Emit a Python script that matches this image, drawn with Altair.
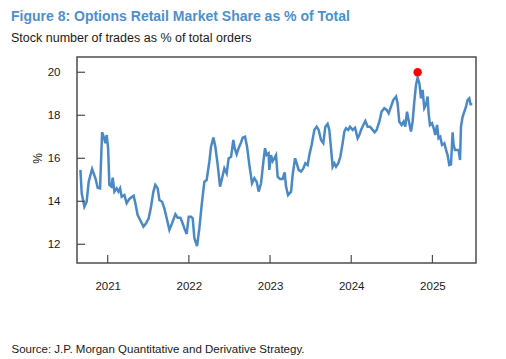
import altair as alt
import pandas as pd

# ---- data ----
years = [
    2020.664, 2020.680, 2020.713, 2020.741, 2020.766, 2020.808, 2020.849, 2020.877, 2020.906, 2020.931,
    2020.951, 2020.972, 2020.988, 2021.005, 2021.021, 2021.046, 2021.062, 2021.083, 2021.111, 2021.132,
    2021.153, 2021.172, 2021.206, 2021.234, 2021.267, 2021.300, 2021.320, 2021.341, 2021.369, 2021.411,
    2021.440, 2021.473, 2021.505, 2021.534, 2021.563, 2021.587, 2021.616, 2021.637, 2021.670, 2021.698,
    2021.727, 2021.760, 2021.793, 2021.834, 2021.862, 2021.895, 2021.916, 2021.945, 2021.973, 2021.998,
    2022.027, 2022.047, 2022.068, 2022.101, 2022.129, 2022.158, 2022.191, 2022.219, 2022.252, 2022.273,
    2022.302, 2022.326, 2022.355, 2022.384, 2022.409, 2022.437, 2022.466, 2022.490, 2022.520, 2022.548,
    2022.564, 2022.589, 2022.613, 2022.643, 2022.663, 2022.692, 2022.717, 2022.745, 2022.778, 2022.807,
    2022.835, 2022.860, 2022.889, 2022.918, 2022.938, 2022.958, 2022.983, 2022.991, 2023.012, 2023.032,
    2023.053, 2023.074, 2023.094, 2023.123, 2023.155, 2023.180, 2023.197, 2023.222,
    2023.259, 2023.278, 2023.308, 2023.328, 2023.352, 2023.382, 2023.410, 2023.435, 2023.463, 2023.484,
    2023.512, 2023.546, 2023.574, 2023.599, 2023.628, 2023.656, 2023.681, 2023.709, 2023.730, 2023.751,
    2023.771, 2023.792, 2023.813, 2023.841, 2023.866, 2023.894, 2023.915, 2023.936, 2023.964, 2023.985,
    2024.017, 2024.047, 2024.079, 2024.100, 2024.121, 2024.149, 2024.174, 2024.202, 2024.232, 2024.264,
    2024.288, 2024.313, 2024.346, 2024.374, 2024.408, 2024.436, 2024.461, 2024.490, 2024.518, 2024.552,
    2024.571, 2024.592, 2024.621, 2024.645, 2024.666, 2024.687, 2024.707, 2024.736, 2024.756, 2024.777,
    2024.798, 2024.818, 2024.839, 2024.860, 2024.879, 2024.900, 2024.921, 2024.941, 2024.953, 2024.970,
    2024.995, 2025.015, 2025.036, 2025.057, 2025.076, 2025.097, 2025.118, 2025.147, 2025.168, 2025.187,
    2025.208, 2025.229, 2025.249, 2025.261, 2025.278, 2025.303, 2025.323, 2025.340, 2025.352, 2025.372,
    2025.393, 2025.414, 2025.433, 2025.454, 2025.470, 2025.491,
]
share = [
    15.46, 14.37, 13.75, 13.98, 14.91, 15.50, 15.07, 14.63, 14.60, 17.21,
    17.00, 16.70, 17.08, 16.47, 14.76, 14.68, 15.10, 14.45, 14.60, 14.45,
    14.60, 14.21, 14.29, 13.91, 14.11, 14.21, 14.26, 13.91, 13.36, 13.05,
    12.82, 12.98, 13.21, 13.75, 14.45, 14.76, 14.60, 14.06, 13.98, 13.67,
    13.21, 12.67, 12.98, 13.40, 13.24, 13.24, 13.05, 12.74, 12.48, 13.28,
    13.28, 13.21, 12.28, 11.92, 12.74, 13.83, 14.91, 14.99, 15.84, 16.54,
    16.96, 16.54, 15.69, 14.68, 15.07, 15.53, 15.30, 16.00, 16.07, 16.85,
    16.47, 16.19, 16.47, 16.74, 16.96, 17.00, 16.54, 15.69, 14.84, 15.07,
    14.91, 14.45, 14.84, 15.84, 16.47, 16.15, 16.23, 15.46, 16.15, 15.87,
    16.00, 16.15, 15.14, 15.04, 15.04, 15.35, 14.68, 14.29,
    14.45, 15.22, 16.00, 15.77, 15.46, 15.38, 15.53, 15.77, 15.69, 16.15,
    16.62, 17.32, 17.47, 17.32, 16.85, 16.70, 17.47, 17.60, 17.32, 16.47,
    15.61, 15.77, 15.61, 15.77, 16.07, 16.70, 17.24, 17.40, 17.32, 17.47,
    17.32, 17.42, 16.93, 17.08, 17.32, 17.55, 17.73, 17.47, 17.47, 17.32,
    17.21, 17.32, 17.70, 18.17, 18.33, 18.25, 18.09, 18.40, 18.71, 18.87,
    18.56, 17.70, 17.55, 17.70, 17.47, 18.17, 17.78, 17.24, 17.70, 18.63,
    19.41, 19.75, 19.49, 18.79, 19.18, 18.33, 18.48, 18.87, 18.09, 17.55,
    17.63, 17.40, 17.08, 17.55, 16.93, 17.00, 16.62, 16.70, 16.39, 16.15,
    15.69, 15.72, 17.21, 16.62, 16.39, 16.39, 16.39, 15.92, 17.47, 17.93,
    18.17, 18.40, 18.71, 18.79, 18.51, 18.51,
]
peak_year = [2024.818]
peak_share = [20.0]
x_ticks = [2021, 2022, 2023, 2024, 2025]
y_ticks = [12, 14, 16, 18, 20]

TITLE = "Figure 8: Options Retail Market Share as % of Total"
SUBTITLE = "Stock number of trades as % of total orders"
SOURCE = "Source: J.P. Morgan Quantitative and Derivative Strategy."
Y_TITLE = "%"

# ---- styling ----
W, H = 399, 206
FONT = "Liberation Sans"
FRAME = "#4d4d4d"
TEXT = "#1a1a1a"

df = pd.DataFrame({"year": years, "share": share})
peak_df = pd.DataFrame({"year": peak_year, "share": peak_share})
xt_df = pd.DataFrame({"year": x_ticks})
yt_df = pd.DataFrame({"share": y_ticks})

xs = alt.Scale(domain=[2020.622, 2025.537], nice=False, zero=False)
ys = alt.Scale(domain=[11.13, 20.71], nice=False, zero=False)

x_axis = alt.Axis(
    values=x_ticks, format="d", title=SOURCE, domain=False, ticks=False, grid=False,
    labelFont=FONT, labelFontSize=11.5, labelColor=TEXT, labelPadding=17,
    titleFont=FONT, titleFontSize=11.5, titleFontWeight="normal", titleColor=TEXT,
    titleX=-66, titleY=89, titleAlign="left", titleBaseline="alphabetic")
y_axis = alt.Axis(
    values=y_ticks, title=Y_TITLE, domain=False, ticks=False, grid=False,
    labelFont=FONT, labelFontSize=11.5, labelColor=TEXT, labelPadding=17,
    titleFont=FONT, titleFontSize=12, titleFontWeight="normal", titleColor=TEXT,
    titleX=-40, titleY=101, titleAlign="center", titleBaseline="middle")

line = alt.Chart(df).mark_line(color="#4a89c5", strokeWidth=2.5).encode(
    x=alt.X("year:Q", scale=xs, axis=x_axis),
    y=alt.Y("share:Q", scale=ys, axis=y_axis),
)

peak = alt.Chart(peak_df).mark_circle(color="#ff0000", size=70, opacity=1).encode(
    x=alt.X("year:Q", scale=xs, axis=x_axis),
    y=alt.Y("share:Q", scale=ys, axis=y_axis),
)

xticks = alt.Chart(xt_df).mark_rule(color=FRAME, strokeWidth=1.2).encode(
    x=alt.X("year:Q", scale=xs, axis=x_axis),
    y=alt.value(H), y2=alt.value(H - 8),
)
yticks = alt.Chart(yt_df).mark_rule(color=FRAME, strokeWidth=1.2).encode(
    y=alt.Y("share:Q", scale=ys, axis=y_axis),
    x=alt.value(0), x2=alt.value(8),
)

chart = alt.layer(line, xticks, yticks, peak).properties(
    width=W, height=H,
    background="white",
    title=alt.TitleParams(
        TITLE, subtitle=SUBTITLE, anchor="start", frame="group", dx=-66, offset=13,
        font=FONT, fontSize=14, fontWeight="bold", color="#4f8fcf",
        subtitleFont=FONT, subtitleFontSize=12.5, subtitleColor=TEXT, subtitlePadding=8,
    ),
    padding={"left": 69, "top": 49, "right": 12, "bottom": 94},
    autosize="none",
).configure_view(stroke=FRAME, strokeWidth=1.5)

chart.save("out.html", embed_options={"renderer": "svg", "actions": False})
